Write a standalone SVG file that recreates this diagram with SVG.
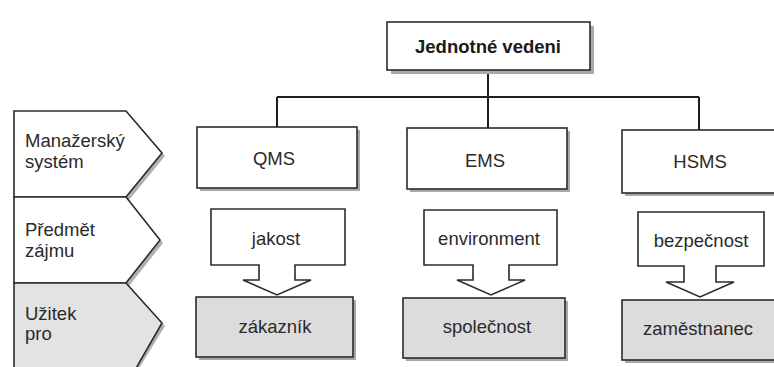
<svg xmlns="http://www.w3.org/2000/svg" width="774" height="367" viewBox="0 0 774 367">
<style>
.box{fill:#fff;stroke:#2b2b2b;stroke-width:1.6}
.gbox{fill:#dcdcdc;stroke:#2b2b2b;stroke-width:1.6}
.sh{fill:#a8a8a8}
.conn{stroke:#1e1e1e;stroke-width:2;fill:none}
text{font-family:"Liberation Sans",Arial,sans-serif;fill:#2a2a2a;font-size:18.5px}
.c{text-anchor:middle}
.b{font-weight:bold;font-size:18.5px;fill:#1a1a1a}
</style>
<rect width="774" height="367" fill="#fff"/>
<g id="connectors">
<line class="conn" x1="488" y1="70" x2="488" y2="128"/>
<line class="conn" x1="277" y1="97" x2="699" y2="97"/>
<line class="conn" x1="277" y1="97" x2="277" y2="127"/>
<line class="conn" x1="699" y1="97" x2="699" y2="130"/>
</g>
<g id="jednotne-vedeni">
<rect class="sh" x="391" y="26" width="203" height="48"/>
<rect class="box" x="387" y="22" width="203" height="48"/>
<text class="c b" x="488" y="53">Jednotné vedeni</text>
</g>
<g id="row-manazersky">
<path d="M17 114H129L165 156L129 200H17Z" fill="#b0b0b0"/>
<path d="M14 111H126L162 153L126 197H14Z" fill="#fff" stroke="#2b2b2b" stroke-width="1.6"/>
<text x="25" y="147">Manažerský</text>
<text x="25" y="168">systém</text>
</g>
<g id="row-predmet">
<path d="M17 200H129L163 243L129 286H17Z" fill="#b0b0b0"/>
<path d="M14 197H126L160 240L126 283H14Z" fill="#fff" stroke="#2b2b2b" stroke-width="1.6"/>
<text x="25" y="236">Předmět</text>
<text x="25" y="257">zájmu</text>
</g>
<g id="row-uzitek">
<path d="M17 286H129L165 326L138 370H17Z" fill="#b0b0b0"/>
<path d="M14 283H126L162 323L135 370H14Z" fill="#e3e3e3" stroke="#2b2b2b" stroke-width="1.6"/>
<text x="25" y="320">Užitek</text>
<text x="25" y="340">pro</text>
</g>
<g id="qms">
<rect class="sh" x="200" y="130" width="160" height="61"/>
<rect class="box" x="197" y="127" width="160" height="61"/>
<text class="c" x="274" y="165">QMS</text>
</g>
<g id="ems">
<rect class="sh" x="410" y="131" width="160" height="61"/>
<rect class="box" x="407" y="128" width="160" height="61"/>
<text class="c" x="485" y="167">EMS</text>
</g>
<g id="hsms">
<rect class="sh" x="625" y="133" width="170" height="63"/>
<rect class="box" x="622" y="130" width="170" height="63"/>
<text class="c" x="700" y="168">HSMS</text>
</g>
<g id="jakost">
<path class="box" d="M211 209H345V265H295V280H311L277 295L243 280H259V265H211Z"/>
<text class="c" x="276" y="245">jakost</text>
</g>
<g id="environment">
<path class="box" d="M424 210H557V265H509V280H525L491 295L457 280H473V265H424Z"/>
<text class="c" x="489" y="245">environment</text>
</g>
<g id="bezpecnost">
<path class="box" d="M638 212H764V266H716V282H734L700 297L666 282H684V266H638Z"/>
<text class="c" x="701" y="247">bezpečnost</text>
</g>
<g id="zakaznik">
<rect class="sh" x="199" y="300" width="157" height="60"/>
<rect class="gbox" x="196" y="297" width="157" height="60"/>
<text class="c" x="275" y="333">zákazník</text>
</g>
<g id="spolecnost">
<rect class="sh" x="406" y="301" width="162" height="60"/>
<rect class="gbox" x="403" y="298" width="162" height="60"/>
<text class="c" x="487" y="333">společnost</text>
</g>
<g id="zamestnanec">
<rect class="sh" x="625" y="303" width="170" height="60"/>
<rect class="gbox" x="622" y="300" width="170" height="60"/>
<text class="c" x="698" y="335">zaměstnanec</text>
</g>
</svg>
